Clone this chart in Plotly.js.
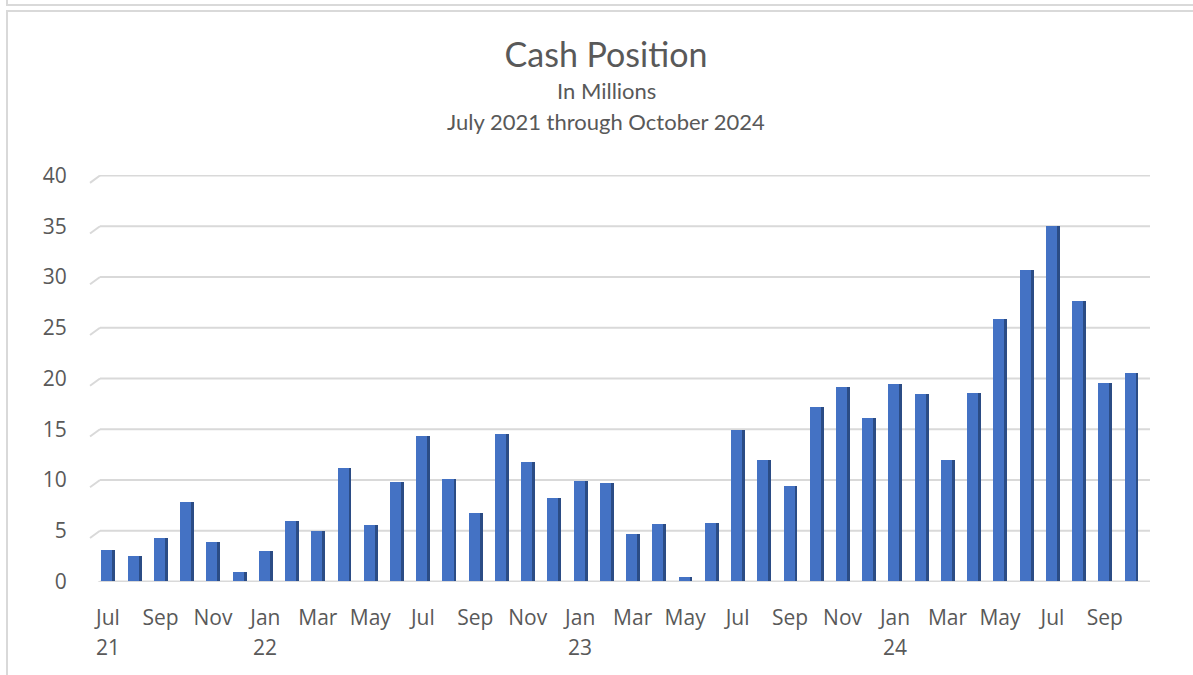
<!DOCTYPE html>
<html>
<head>
<meta charset="utf-8">
<script src="https://cdn.plot.ly/plotly-3.0.1.min.js"></script>
<style>
  html, body { margin:0; padding:0; background:#fff; }
  #wrap { position:relative; width:1193px; height:675px; overflow:hidden; }
  #chart { position:absolute; left:0; top:0; width:1193px; height:675px; }
  .ln { position:absolute; background:#d9d9d9; pointer-events:none; z-index:5; }
</style>
</head>
<body>
<div id="wrap">
  <div id="chart"></div>
  <div class="ln" style="left:6px; top:0px; width:2px; height:6px;"></div>
  <div class="ln" style="left:6px; top:4px; width:1187px; height:2px;"></div>
  <div class="ln" style="left:6px; top:10px; width:1187px; height:2px;"></div>
  <div class="ln" style="left:6px; top:10px; width:2px; height:665px;"></div>
</div>
<script>
const months = ['Jul 21','Aug 21','Sep 21','Oct 21','Nov 21','Dec 21',
  'Jan 22','Feb 22','Mar 22','Apr 22','May 22','Jun 22','Jul 22','Aug 22','Sep 22','Oct 22','Nov 22','Dec 22',
  'Jan 23','Feb 23','Mar 23','Apr 23','May 23','Jun 23','Jul 23','Aug 23','Sep 23','Oct 23','Nov 23','Dec 23',
  'Jan 24','Feb 24','Mar 24','Apr 24','May 24','Jun 24','Jul 24','Aug 24','Sep 24','Oct 24'];
const cash = [3.1,2.5,4.3,7.8,3.9,0.9,
  3.0,6.0,5.0,11.2,5.6,9.8,14.3,10.1,6.7,14.5,11.8,8.2,
  9.9,9.7,4.7,5.7,0.4,5.8,14.9,12.0,9.4,17.2,19.2,16.1,
  19.5,18.5,12.0,18.6,25.9,30.7,35.0,27.6,19.6,20.5];
const tickMonths = ['Jul 21','Sep 21','Nov 21','Jan 22','Mar 22','May 22','Jul 22','Sep 22','Nov 22',
  'Jan 23','Mar 23','May 23','Jul 23','Sep 23','Nov 23','Jan 24','Mar 24','May 24','Jul 24','Sep 24'];
const tickText = ['Jul','Sep','Nov','Jan','Mar','May','Jul','Sep','Nov',
  'Jan','Mar','May','Jul','Sep','Nov','Jan','Mar','May','Jul','Sep'];
const yearAt = ['Jul 21','Jan 22','Jan 23','Jan 24'];
const yearText = ['21','22','23','24'];
const yTicks = [0,5,10,15,20,25,30,35,40];

const tickFont = {family:'Open Sans, Noto Sans, sans-serif', size:21, color:'#595959'};

const side = {type:'bar', x:months, y:cash, width:0.53, offset:-0.25,
  marker:{color:'#2b4c85'}, hoverinfo:'skip', showlegend:false};
const front = {type:'bar', x:months, y:cash, width:0.42, offset:-0.25,
  marker:{color:'#4472c4'}, showlegend:false};

const cx = (606-100)/1050;
const annotations = [
  {text:'In Millions', xref:'paper', yref:'paper', x:cx, y:1, yshift:(175-90), showarrow:false,
   font:{family:'Lato, sans-serif', size:22, color:'#595959'}, xanchor:'center', yanchor:'middle'},
  {text:'July 2021 through October 2024', xref:'paper', yref:'paper', x:cx, y:1, yshift:(175-121), showarrow:false,
   font:{family:'Lato, sans-serif', size:22, color:'#595959'}, xanchor:'center', yanchor:'middle'}
];
yearAt.forEach((m,i)=>{
  annotations.push({text:yearText[i], xref:'x', yref:'paper', x:m, y:0, yshift:-(647-582.5), showarrow:false,
    font:tickFont, xanchor:'center', yanchor:'middle'});
});

const shapes = [];
yTicks.forEach(v=>{
  shapes.push({type:'line', xref:'paper', yref:'y', x0:-10/1050, y0:v-0.72, x1:0, y1:v,
    line:{color:'#d9d9d9', width:2}, layer:'below'});
  shapes.push({type:'line', xref:'paper', yref:'y', x0:0, y0:v, x1:1, y1:v,
    line:{color:'#d9d9d9', width:2}, layer:'below'});
});

const layout = {
  width:1193, height:675,
  margin:{l:100, r:43, t:175, b:92.5, pad:0},
  paper_bgcolor:'#ffffff', plot_bgcolor:'#ffffff',
  barmode:'overlay',
  title:{text:'Cash Position', x:606/1193, xanchor:'center', y:1-55/675, yanchor:'middle',
    font:{family:'Lato, sans-serif', size:34, color:'#595959'}},
  xaxis:{type:'category', range:[-0.305, 39.72], tickvals:tickMonths, ticktext:tickText,
    tickfont:tickFont, ticks:'outside', ticklen:17, tickcolor:'rgba(0,0,0,0)',
    showgrid:false, zeroline:false, showline:false, fixedrange:true},
  yaxis:{range:[-0.05,40.05], tickvals:yTicks, tickfont:tickFont, ticks:'outside', ticklen:28,
    tickcolor:'rgba(0,0,0,0)', showgrid:false,
    zeroline:false, showline:false, fixedrange:true},
  annotations:annotations,
  shapes:shapes,
  bargap:0
};
Plotly.newPlot('chart', [side, front], layout, {displayModeBar:false, staticPlot:true});
</script>
</body>
</html>
